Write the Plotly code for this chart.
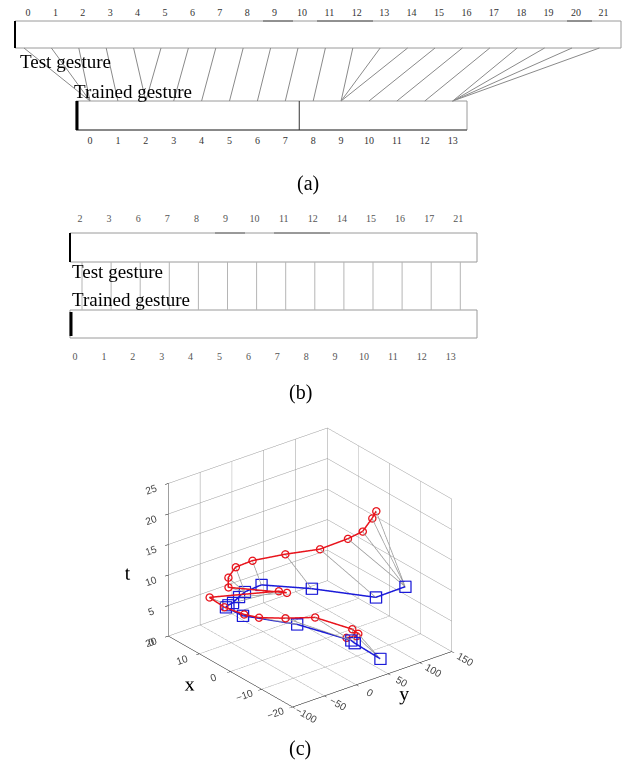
import plotly.graph_objects as go

# reference canvas size, and the default page margin of the html body
REF_W, REF_H = 630, 769
PAGE_MARGIN = 8
W, H = REF_W - PAGE_MARGIN, REF_H - PAGE_MARGIN

# ---------------- data ----------------
# panel (a): DTW alignment between test gesture (22 frames) and trained gesture (14 frames)
test_index_a = list(range(22))
trained_index_a = list(range(14))
align_test = [0, 1, 2, 3, 4, 5, 6, 7, 8, 9, 10, 11, 12, 13, 14, 15, 16, 17, 18, 19, 20, 21]
align_trained = [0, 0, 0, 1, 2, 2, 3, 4, 5, 6, 7, 8, 9, 9, 9, 10, 11, 12, 13, 13, 13, 13]

# panel (b): resampled test frames matched one-to-one with trained frames
test_labels_b = [2, 3, 6, 7, 8, 9, 10, 11, 12, 14, 15, 16, 17, 21]
trained_labels_b = list(range(14))

# panel (c): trajectories (x, y, t)
test_x = [-2.3, -5.1, -6.6, -6.4, 0.1, 1.3, 2.6, 3.4, 6.2, 9.3, 0.9, -2.8, 4.1, 5.4, 6.0, 4.1,
          0.2, -4.4, -6.3, -7.7, -6.4, -6.5]
test_y = [70.8, 72.9, 68.3, 59.9, 33.2, -7.5, -42.8, -62.2, -79.6, -87.7, -20.0, -25.3, -83.4,
          -77.2, -62.7, -45.7, -13.1, 18.9, 53.5, 70.0, 91.3, 97.1]
test_t = list(range(22))
trained_x = [-13.8, -7.3, -8.1, 2.0, 9.5, 12.4, 10.7, 8.8, 8.0, 6.9, 5.2, -4.4, -17.4, -19.4]
trained_y = [67.9, 59.3, 50.1, 14.3, -34.3, -46.9, -51.4, -53.4, -47.8, -44.0, -26.1, 6.1, 43.4, 79.9]
trained_t = list(range(14))

x_ticks_c = [-20, -10, 0, 10, 20]
y_ticks_c = [-100, -50, 0, 50, 100, 150]
t_ticks_c = [0, 5, 10, 15, 20, 25]

# ---------------- layout constants (reference pixels) ----------------
SERIF = "Liberation Serif"
LINE_GRAY = "#8a8a8a"
RED = "#e8141c"
BLUE = "#1a1ad8"

# (a)
a_top_y0, a_top_y1 = 21, 48
a_bot_y0, a_bot_y1 = 101, 130
a_top_x0, a_top_x1 = 15, 621
a_bot_x0, a_bot_x1 = 76, 467
def a_test_pos(i):
    return 28 + 27.4 * i
def a_trained_pos(j):
    return 90 + 27.9 * j

# (b)
b_top_y0, b_top_y1 = 233, 262
b_bot_y0, b_bot_y1 = 310, 338
b_x0, b_x1 = 70, 477
def b_test_pos(k):
    return 80 + 29.1 * k
def b_trained_pos(j):
    return 75 + 28.9 * j

fig = go.Figure()

# ---- panel (a) alignment lines ----
lx, ly = [], []
for i, j in zip(align_test, align_trained):
    lx += [a_test_pos(i) - 4, a_trained_pos(j), None]
    ly += [a_top_y1, a_bot_y0, None]
fig.add_trace(go.Scatter(x=lx, y=ly, mode="lines", line=dict(color=LINE_GRAY, width=1),
                         hoverinfo="skip", showlegend=False, xaxis="x", yaxis="y"))

# ---- panel (b) vertical match lines ----
vx, vy = [], []
for k in range(len(test_labels_b)):
    vx += [b_test_pos(k) + 2, b_test_pos(k) + 2, None]
    vy += [b_top_y1, b_bot_y0, None]
fig.add_trace(go.Scatter(x=vx, y=vy, mode="lines", line=dict(color="#b5b5b5", width=1),
                         hoverinfo="skip", showlegend=False))

# ---- tick labels ----
tick_font = dict(family=SERIF, size=10, color="#333")
fig.add_trace(go.Scatter(x=[a_test_pos(i) for i in test_index_a], y=[13] * len(test_index_a),
                         text=[str(i) for i in test_index_a], mode="text", textfont=tick_font,
                         hoverinfo="skip", showlegend=False))
fig.add_trace(go.Scatter(x=[a_trained_pos(j) for j in trained_index_a], y=[141] * len(trained_index_a),
                         text=[str(j) for j in trained_index_a], mode="text", textfont=tick_font,
                         hoverinfo="skip", showlegend=False))
fig.add_trace(go.Scatter(x=[b_test_pos(k) for k in range(len(test_labels_b))], y=[219] * len(test_labels_b),
                         text=[str(v) for v in test_labels_b], mode="text",
                         textfont=dict(family=SERIF, size=10, color="#555"),
                         hoverinfo="skip", showlegend=False))
fig.add_trace(go.Scatter(x=[b_trained_pos(j) for j in trained_labels_b], y=[357] * len(trained_labels_b),
                         text=[str(v) for v in trained_labels_b], mode="text",
                         textfont=dict(family=SERIF, size=10, color="#555"),
                         hoverinfo="skip", showlegend=False))

# ---- panel (c) 3D ----
gx, gy, gt = [], [], []
for i, j in zip(align_test, align_trained):
    gx += [test_y[i], trained_y[j], None]
    gy += [test_x[i], trained_x[j], None]
    gt += [test_t[i], trained_t[j], None]
fig.add_trace(go.Scatter3d(x=gx, y=gy, z=gt, mode="lines", line=dict(color="#9a9a9a", width=1.5),
                           hoverinfo="skip", showlegend=False, scene="scene"))
fig.add_trace(go.Scatter3d(x=test_y, y=test_x, z=test_t, mode="lines+markers",
                           line=dict(color=RED, width=3),
                           marker=dict(symbol="circle-open", size=4.5, color=RED,
                                       line=dict(width=1.5, color=RED)),
                           hoverinfo="skip", showlegend=False, scene="scene"))
fig.add_trace(go.Scatter3d(x=trained_y, y=trained_x, z=trained_t, mode="lines+markers",
                           line=dict(color=BLUE, width=3),
                           marker=dict(symbol="square-open", size=5, color=BLUE,
                                       line=dict(width=1.5, color=BLUE)),
                           hoverinfo="skip", showlegend=False, scene="scene"))

# ---- shapes (bars) ----
shapes = []
def rect(x0, y0, x1, y1, color="#9a9a9a", w=1):
    shapes.append(dict(type="rect", xref="x", yref="y", x0=x0, y0=y0, x1=x1, y1=y1,
                       line=dict(color=color, width=w), fillcolor="white", layer="below"))
def seg(x0, y0, x1, y1, color="black", w=1):
    shapes.append(dict(type="line", xref="x", yref="y", x0=x0, y0=y0, x1=x1, y1=y1,
                       line=dict(color=color, width=w)))

rect(a_top_x0, a_top_y0, a_top_x1, a_top_y1)
seg(a_top_x0, a_top_y0, a_top_x0, a_top_y1, "black", 2)
for xa, xb in [(263, 293), (317, 373), (567, 592)]:
    seg(xa, a_top_y0, xb, a_top_y0, "#555", 1)
rect(a_bot_x0, a_bot_y0, a_bot_x1, a_bot_y1)
seg(a_bot_x0, a_bot_y1, a_bot_x1, a_bot_y1, "#444", 1)
seg(a_bot_x0 + 1, a_bot_y0, a_bot_x0 + 1, a_bot_y1, "black", 3)
xm = (a_trained_pos(7) + a_trained_pos(8)) / 2
seg(xm, a_bot_y0, xm, a_bot_y1, "#333", 1)

rect(b_x0, b_top_y0, b_x1, b_top_y1)
seg(b_x0, b_top_y0, b_x0, b_top_y1, "black", 2)
for xa, xb in [(215, 245), (274, 330)]:
    seg(xa, b_top_y0, xb, b_top_y0, "#666", 1)
rect(b_x0, b_bot_y0, b_x1, b_bot_y1)
seg(b_x0 + 1, b_bot_y0 + 2, b_x0 + 1, b_bot_y1 - 2, "black", 3)

# ---- annotations ----
ann = []
def text(x, y, s, size, anchor="left"):
    ann.append(dict(x=x, y=y, xref="x", yref="y", text=s, showarrow=False, xanchor=anchor,
                    yanchor="middle", font=dict(family=SERIF, size=size, color="black")))
text(18, 61, "Test gesture", 19)
text(72, 91, "Trained gesture", 19)
text(70, 271, "Test gesture", 19)
text(70, 299, "Trained gesture", 19)
text(308, 183, "(a)", 20, "center")
text(300, 392, "(b)", 20, "center")
text(300, 748, "(c)", 20, "center")

S = 1.205  # box scale inside the scene
axis3d = dict(showbackground=False, gridcolor="#999999", gridwidth=1, zeroline=False,
              showline=True, linecolor="black", linewidth=1, ticks="outside", ticklen=4,
              tickcolor="black", showspikes=False,
              tickfont=dict(family="Liberation Sans", size=11, color="#444"))

def dom_x(p0, p1):
    return [(p0 - PAGE_MARGIN) / W, (p1 - PAGE_MARGIN) / W]
def dom_y(p0, p1):
    return [1 - (p1 - PAGE_MARGIN) / H, 1 - (p0 - PAGE_MARGIN) / H]

scene = dict(
    domain=dict(x=dom_x(120, 500), y=dom_y(400, 735)),
    xaxis=dict(axis3d, range=[-100, 150], tickvals=y_ticks_c,
               title=dict(text="y", font=dict(family=SERIF, size=20, color="black"))),
    yaxis=dict(axis3d, range=[-20, 20], tickvals=x_ticks_c,
               title=dict(text="x", font=dict(family=SERIF, size=20, color="black"))),
    zaxis=dict(axis3d, range=[0, 25], tickvals=t_ticks_c,
               title=dict(text="t", font=dict(family=SERIF, size=20, color="black"))),
    aspectmode="manual", aspectratio=dict(x=S, y=S, z=0.845 * S),
    camera=dict(eye=dict(x=-0.551 * 2, y=-0.705 * 2, z=0.446 * 2),
                center=dict(x=0, y=0, z=0), up=dict(x=0, y=0, z=1),
                projection=dict(type="orthographic")),
    bgcolor="white",
)

fig.update_layout(
    width=W, height=H, margin=dict(l=0, r=0, t=0, b=0),
    paper_bgcolor="white", plot_bgcolor="white",
    xaxis=dict(range=[PAGE_MARGIN, REF_W], visible=False, domain=[0, 1], fixedrange=True),
    yaxis=dict(range=[REF_H, PAGE_MARGIN], visible=False, domain=[0, 1], fixedrange=True),
    shapes=shapes, annotations=ann, scene=scene, showlegend=False,
)

fig.write_html("out.html")
